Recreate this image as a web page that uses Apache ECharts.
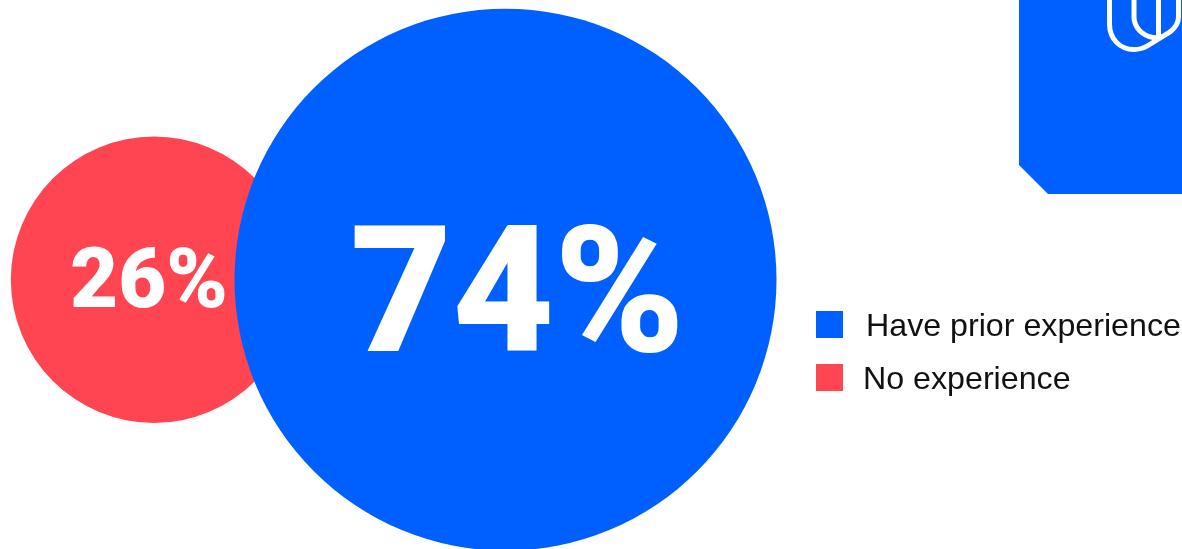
<!DOCTYPE html>
<html>
<head>
<meta charset="utf-8">
<style>
  html, body { margin: 0; padding: 0; background: #fff; }
  #chart { width: 1182px; height: 549px; }
</style>
<script src="https://cdn.jsdelivr.net/npm/echarts@6/dist/echarts.min.js"></script>
</head>
<body>
<div id="chart"></div>
<script>
  // Share of respondents by prior experience
  const categories = ['No experience', 'Have prior experience'];
  const shares = [26, 74];
  const legendOrder = ['Have prior experience', 'No experience'];

  const BLUE = '#005FFF';
  const RED = '#FF4552';
  const colors = { 'No experience': RED, 'Have prior experience': BLUE };
  const labelSizes = { 'No experience': 83, 'Have prior experience': 176 };
  const labelOffsets = { 'No experience': [-5, 7], 'Have prior experience': [12, 27] };

  // Bubble diameter grows with the share
  const bubbleDiameter = v => 542 * Math.pow(v / 74, 0.61);

  const series = categories.map((name, i) => ({
    name,
    type: 'scatter',
    clip: false,
    z: 2 + i,
    symbol: 'circle',
    symbolSize: d => bubbleDiameter(d[2]),
    itemStyle: { color: colors[name], opacity: 1 },
    emphasis: { disabled: true },
    label: {
      show: true,
      position: 'inside',
      offset: labelOffsets[name],
      formatter: p => p.value[2] + '%',
      color: '#fff',
      fontFamily: 'Roboto, sans-serif',
      fontWeight: 900,
      fontSize: labelSizes[name]
    },
    data: [[name, 'Share', shares[i]]]
  }));

  const legendBase = {
    orient: 'vertical',
    icon: 'rect',
    itemWidth: 27,
    itemHeight: 27,
    selectedMode: false,
    left: 816,
    padding: 0,
    formatter: '{t|{name}}'
  };

  // Brand mark outline, cropped by the top edge of the page
  echarts.graphic.registerShape('brandMark', echarts.graphic.extendPath(
    'M1109.5 -4 V24 C1109.5 39 1120 49.5 1134 49.5 C1140 49.5 1144 48 1148 45.5 L1170 32 C1175 28 1178.5 24 1178.5 17 V-4 ' +
    'M1134 -4 V17 C1134 28 1143 36 1153 37.5 C1155 38 1157 38 1160 36 ' +
    'M1158.5 -4 V36', {}));

  const chart = echarts.init(document.getElementById('chart'));
  chart.setOption({
    animation: false,
    backgroundColor: '#fff',
    grid: { left: 154, width: 351.5, top: 129.7, height: 300, containLabel: false },
    xAxis: { type: 'category', data: categories, boundaryGap: false, show: false },
    yAxis: { type: 'category', data: ['Share'], show: false },
    legend: legendOrder.map((name, i) => ({
      ...legendBase,
      data: [name],
      top: i === 0 ? 311 : 364,
      textStyle: {
        rich: {
          t: {
            color: '#111',
            fontFamily: '"Liberation Sans", Arial, sans-serif',
            fontSize: 32.2,
            lineHeight: 38,
            verticalAlign: 'bottom',
            padding: [0, 0, 0, i === 0 ? 18 : 15]
          }
        }
      }
    })),
    graphic: [
      {
        // Brand panel with a chamfered corner
        type: 'polygon',
        silent: true,
        z: 1,
        shape: { points: [[1019, 0], [1182, 0], [1182, 194], [1048, 194], [1019, 165]] },
        style: { fill: BLUE }
      },
      {
        type: 'brandMark',
        silent: true,
        z: 5,
        style: { fill: 'none', stroke: '#fff', lineWidth: 5 }
      }
    ],
    series
  });
</script>
</body>
</html>
